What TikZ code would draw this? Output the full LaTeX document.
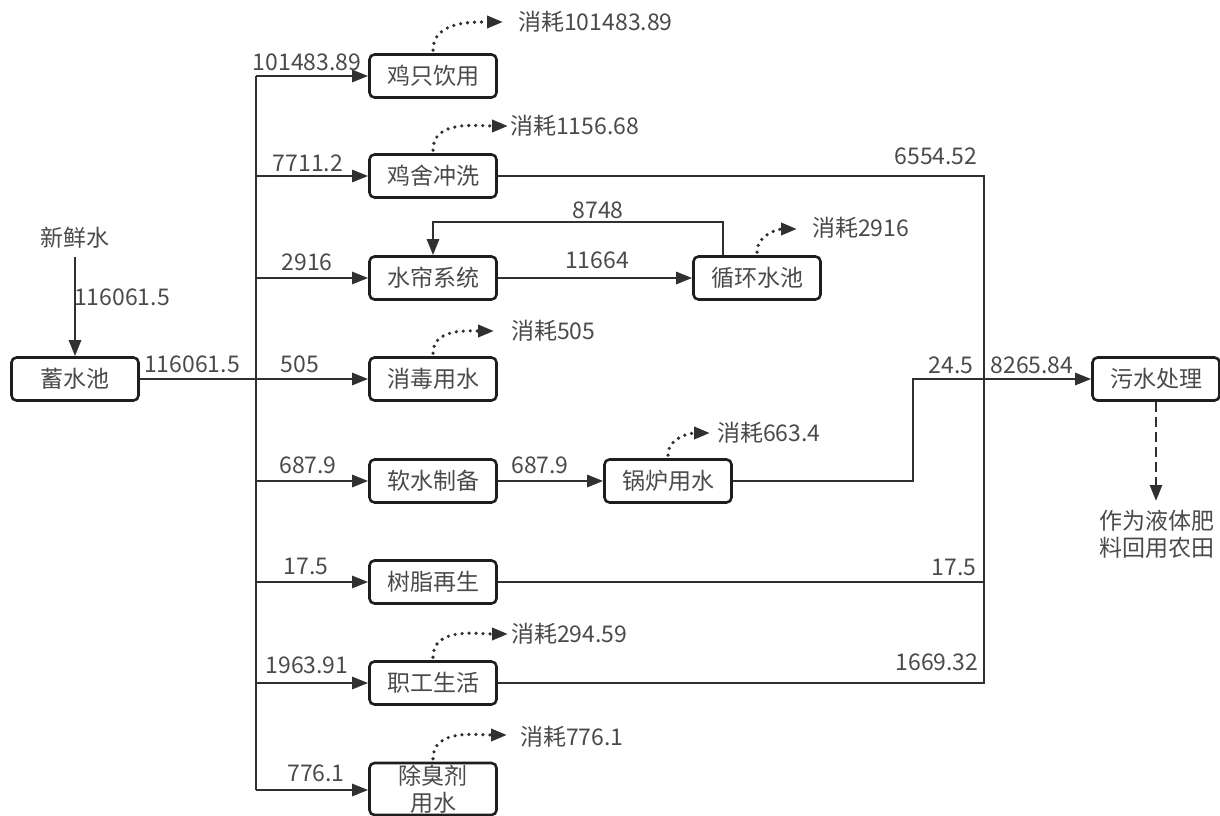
\documentclass[tikz,border=0pt]{standalone}
\usepackage{fontspec}
\setmainfont{Noto Sans CJK SC}
\usetikzlibrary{arrows.meta}
\definecolor{linec}{HTML}{303030}
\definecolor{boxc}{HTML}{1E1E1E}
\definecolor{textc}{HTML}{4A4A4A}
\newcommand{\fs}{\fontsize{23}{27}\selectfont}
\begin{document}
\begin{tikzpicture}[x=1pt,y=-1pt,
  flow/.style={draw=linec, line width=2.6pt},
  arr/.style={-{Triangle[length=16pt,width=12pt]}},
  box/.style={draw=boxc, line width=2.6pt, rounded corners=5pt, fill=white,
    minimum width=127pt, minimum height=43pt, inner sep=0pt, font=\fs, text=textc},
  lbl/.style={font=\fs, text=textc, inner sep=0pt},
  loss/.style={draw=linec, line width=3.6pt, line cap=round, dash pattern=on 0pt off 7pt,
    -{Triangle[length=16pt,width=12pt]}}
]
\useasboundingbox (0,0) rectangle (1220,816);

% process boxes
\node[box] (pool) at (75,379) {蓄水池};
\node[box] (drink) at (433,76) {鸡只饮用};
\node[box] (wash) at (433,176) {鸡舍冲洗};
\node[box] (curtain) at (433,278) {水帘系统};
\node[box] (recyc) at (757,278) {循环水池};
\node[box] (disinf) at (433,379) {消毒用水};
\node[box] (soft) at (433,481) {软水制备};
\node[box] (boiler) at (668,481) {锅炉用水};
\node[box] (resin) at (433,582) {树脂再生};
\node[box] (staff) at (433,683) {职工生活};
\node[box, minimum height=52pt, align=center] (deodor) at (433,789) {除臭剂\\用水};
\node[box] (sewage) at (1156,379) {污水处理};

% free texts
\node[lbl] (fresh) at (75,238) {新鲜水};
\node[lbl, align=center] (field) at (1157,534) {作为液体肥\\料回用农田};

% bus coordinates
\coordinate (bt) at (256,76);
\coordinate (bb) at (256,790);
\coordinate (bj) at (256,379);
\coordinate (rt) at (984,176);
\coordinate (rb) at (984,683);
\coordinate (rj) at (984,379);
\coordinate (bk1) at (913,481);
\coordinate (bk2) at (913,379);
\coordinate (lp1) at (723,222);
\coordinate (lp2) at (433,222);
\coordinate (fieldtip) at (1156,501);

% supply side
\draw[flow,arr] ([yshift=-8pt]fresh.south) -- (pool.north);
\draw[flow] (pool.east) -- (bj);
\draw[flow] (bt) -- (bb);
\foreach \n in {drink,wash,curtain,disinf,soft,resin,staff}
  \draw[flow,arr] (bt |- \n.west) -- (\n.west);
\draw[flow,arr] (bb) -- (bb -| deodor.west);

% inner flows
\draw[flow,arr] (curtain.east) -- (recyc.west);
\draw[flow,arr] (lp1 |- recyc.north) -- (lp1) -- (lp2) -- (curtain.north);
\draw[flow,arr] (soft.east) -- (boiler.west);

% drainage side
\draw[flow] (wash.east) -- (rt) -- (rb) -- (staff.east);
\draw[flow] (resin.east) -- (rt |- resin.east);
\draw[flow] (boiler.east) -- (bk1) -- (bk2) -- (rj);
\draw[flow,arr] (rj) -- (sewage.west);
\draw[flow,arr,dash pattern=on 10pt off 5pt] (sewage.south) -- (fieldtip);

% consumption arrows
\coordinate (c1) at (503,22);
\coordinate (c2) at (508,126);
\coordinate (c3) at (797,229);
\coordinate (c4) at (494,331);
\coordinate (c5) at (710,433);
\coordinate (c6) at (508,634);
\coordinate (c7) at (507,735);
\draw[loss] ([yshift=3pt]drink.north) to[out=90,in=180] (c1);
\draw[loss] ([yshift=3pt]wash.north) to[out=90,in=180] (c2);
\draw[loss] ([yshift=3pt]recyc.north) to[out=90,in=180] (c3);
\draw[loss] ([yshift=3pt]disinf.north) to[out=90,in=180] (c4);
\draw[loss] ([yshift=3pt]boiler.north) to[out=90,in=180] (c5);
\draw[loss] ([yshift=3pt]staff.north) to[out=90,in=180] (c6);
\draw[loss] ([yshift=3pt]deodor.north) to[out=90,in=180] (c7);
\node[lbl, anchor=west] at (518,22) {消耗101483.89};
\node[lbl, anchor=west] at (510,126) {消耗1156.68};
\node[lbl, anchor=west] at (812,228) {消耗2916};
\node[lbl, anchor=west] at (511,331) {消耗505};
\node[lbl, anchor=west] at (717,433) {消耗663.4};
\node[lbl, anchor=west] at (511,634) {消耗294.59};
\node[lbl, anchor=west] at (520,737) {消耗776.1};

% flow quantities
\node[lbl] at (122,297) {116061.5};
\node[lbl] at (192,364) {116061.5};
\node[lbl] at (307,62) {101483.89};
\node[lbl] at (308,163) {7711.2};
\node[lbl] at (307,262) {2916};
\node[lbl] at (300,364) {505};
\node[lbl] at (308,465) {687.9};
\node[lbl] at (306,566) {17.5};
\node[lbl] at (307,665) {1963.91};
\node[lbl] at (316,773) {776.1};
\node[lbl] at (598,210) {8748};
\node[lbl] at (597,260) {11664};
\node[lbl] at (540,465) {687.9};
\node[lbl] at (936,156) {6554.52};
\node[lbl] at (951,365) {24.5};
\node[lbl] at (1032,365) {8265.84};
\node[lbl] at (954,567) {17.5};
\node[lbl] at (937,662) {1669.32};
\end{tikzpicture}
\end{document}
